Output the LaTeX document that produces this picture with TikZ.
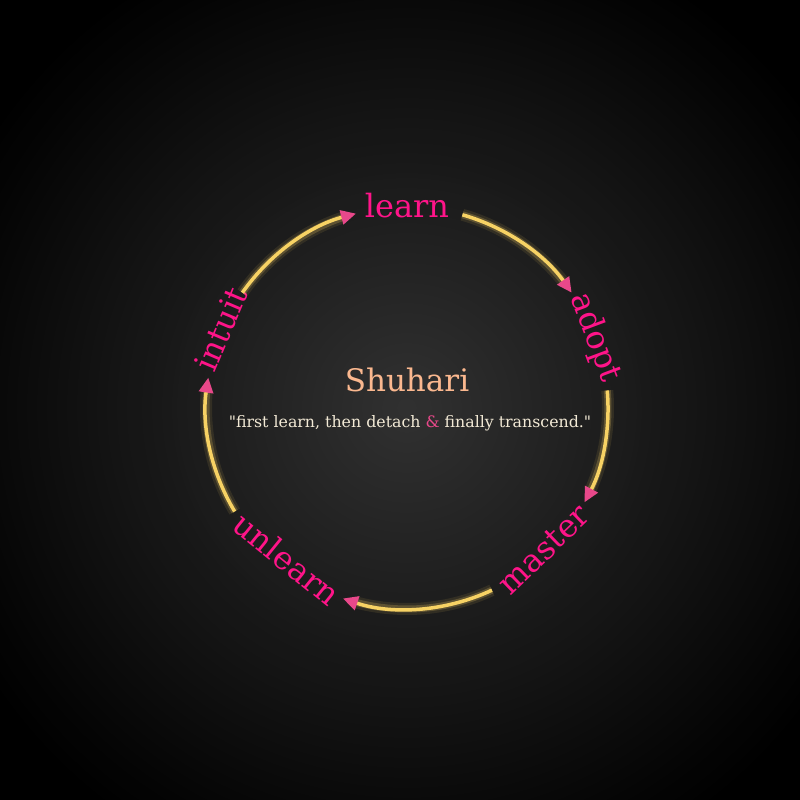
\documentclass[tikz,border=0pt]{standalone}
\usepackage{fontspec}
\setmainfont{DejaVu Serif}
\usetikzlibrary{arrows.meta,calc}
\definecolor{bgc}{HTML}{313131}
\definecolor{lblc}{HTML}{FF1489}
\definecolor{arrc}{HTML}{E8488A}
\definecolor{arcc}{HTML}{F7D264}
\definecolor{titc}{HTML}{FBB88F}
\definecolor{quoc}{HTML}{F3EAD6}
\begin{document}
\begin{tikzpicture}[x=1pt,y=1pt,
  lbl/.style={text=lblc,font=\fontsize{32}{38}\selectfont,inner sep=0pt},
  arcline/.style={draw=arcc,line width=3.5pt,-{Triangle[length=15pt,width=14pt,color=arrc]}},
  glowwide/.style={draw=arcc,line width=12pt,opacity=0.1},
  glowmid/.style={draw=arcc,line width=7pt,opacity=0.22},
  titlestyle/.style={text=titc,font=\fontsize{31}{37}\selectfont,inner sep=0pt},
  quotestyle/.style={text=quoc,font=\fontsize{15.8}{19}\selectfont,inner sep=0pt}]
\useasboundingbox (0,0) rectangle (800,800);
\fill[black] (0,0) rectangle (800,800);
\coordinate (C) at (407,392);
% radial background
\foreach \r in {570,565,...,5}{
  \pgfmathsetmacro{\p}{max(0,100*(1-\r/500))}
  \colorlet{ringc}{bgc!\p!black}
  \fill[ringc] (C) circle[radius=\r];
}
% labels
\node[lbl] (learn) at ($(C)+(90:202)$) {learn};
\node[lbl,rotate=-69.5] (adopt) at ($(C)+(20.5:201)$) {adopt};
\node[lbl,rotate=44] (master) at ($(C)+(-46:197)$) {master};
\node[lbl,rotate=-39] (unlearn) at ($(C)+(-128.5:193)$) {unlearn};
\node[lbl,rotate=67] (intuit) at ($(C)+(157:202)$) {intuit};
% arcs
\foreach \s/\e [count=\i] in {74/35, 5/-28, -65/-108.6, -149/-188.7, 145/104.7}{
  \coordinate (s\i) at ($(C)+(\s:201)$);
  \pgfmathsetmacro{\eg}{\e+4}
  \draw[glowwide] (s\i) arc[start angle=\s, end angle=\eg, radius=201];
  \draw[glowmid] (s\i) arc[start angle=\s, end angle=\eg, radius=201];
  \draw[arcline] (s\i) arc[start angle=\s, end angle=\e, radius=201];
}
% centre texts
\node[titlestyle] (title) at (407,420) {Shuhari};
\node[quotestyle] (quote) at (410,377) {\textquotedbl first learn, then detach {\color{arrc}\&} finally transcend.\textquotedbl};
\end{tikzpicture}
\end{document}
